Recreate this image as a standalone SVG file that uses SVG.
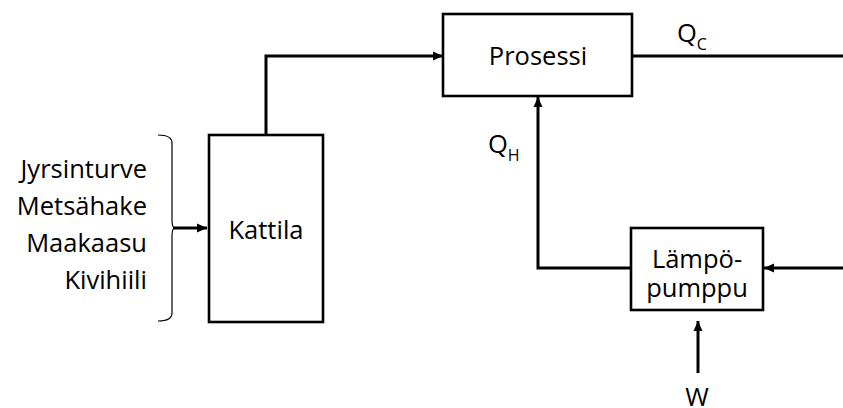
<svg xmlns="http://www.w3.org/2000/svg" width="843" height="408" viewBox="0 0 843 408">
  <style>
    .box { fill: #ffffff; stroke: #000000; stroke-width: 2.6; }
    .lbl { font-family: "Open Sans", "Liberation Sans", sans-serif; font-size: 25.5px; fill: #000000; }
    .sub { font-family: "Open Sans", "Liberation Sans", sans-serif; font-size: 16px; fill: #000000; }
    .wire { fill: none; stroke: #000000; stroke-width: 3; stroke-linejoin: miter; }
    .brace { fill: none; stroke: #000000; stroke-width: 1.2; }
  </style>
  <defs>
    <marker id="head" markerUnits="userSpaceOnUse" markerWidth="12" markerHeight="12" viewBox="0 0 12 12" refX="11" refY="6" orient="auto">
      <path d="M1,1.5 L11,6 L1,10.5 Z" fill="#000000"/>
    </marker>
  </defs>

  <!-- fuel list with brace -->
  <g id="fuels">
    <text class="lbl" text-anchor="end" x="147" y="178">Jyrsinturve</text>
    <text class="lbl" text-anchor="end" x="147" y="215">Metsähake</text>
    <text class="lbl" text-anchor="end" x="147" y="252">Maakaasu</text>
    <text class="lbl" text-anchor="end" x="147" y="289">Kivihiili</text>
    <path class="brace" d="M158,135 Q172,135 172,143 L172,220 Q172,228 175,228 Q172,228 172,236 L172,313 Q172,321 158,321"/>
  </g>

  <!-- nodes -->
  <g id="kattila">
    <rect class="box" x="209" y="135" width="114" height="187"/>
    <text class="lbl" text-anchor="middle" x="266" y="239">Kattila</text>
  </g>
  <g id="prosessi">
    <rect class="box" x="443" y="14" width="189" height="82"/>
    <text class="lbl" text-anchor="middle" x="538" y="65">Prosessi</text>
  </g>
  <g id="lampopumppu">
    <rect class="box" x="631" y="228" width="132" height="82"/>
    <text class="lbl" text-anchor="middle" x="697" y="268">Lämpö-</text>
    <text class="lbl" text-anchor="middle" x="697" y="297">pumppu</text>
  </g>

  <!-- connectors -->
  <g id="connectors">
    <path class="wire" d="M173,228 L207,228" marker-end="url(#head)"/>
    <path class="wire" d="M266,135 L266,56 L443,56" marker-end="url(#head)"/>
    <path class="wire" d="M632,56 L843,56"/>
    <path class="wire" d="M631,268 L538,268 L538,97" marker-end="url(#head)"/>
    <path class="wire" d="M843,268 L764,268" marker-end="url(#head)"/>
    <path class="wire" d="M698,373 L698,321" marker-end="url(#head)"/>
  </g>

  <!-- flow labels -->
  <g id="labels">
    <text class="lbl" x="677" y="42">Q<tspan class="sub" dy="8">C</tspan></text>
    <text class="lbl" x="488" y="153">Q<tspan class="sub" dy="8">H</tspan></text>
    <text class="lbl" text-anchor="middle" x="697" y="406">W</text>
  </g>
</svg>
